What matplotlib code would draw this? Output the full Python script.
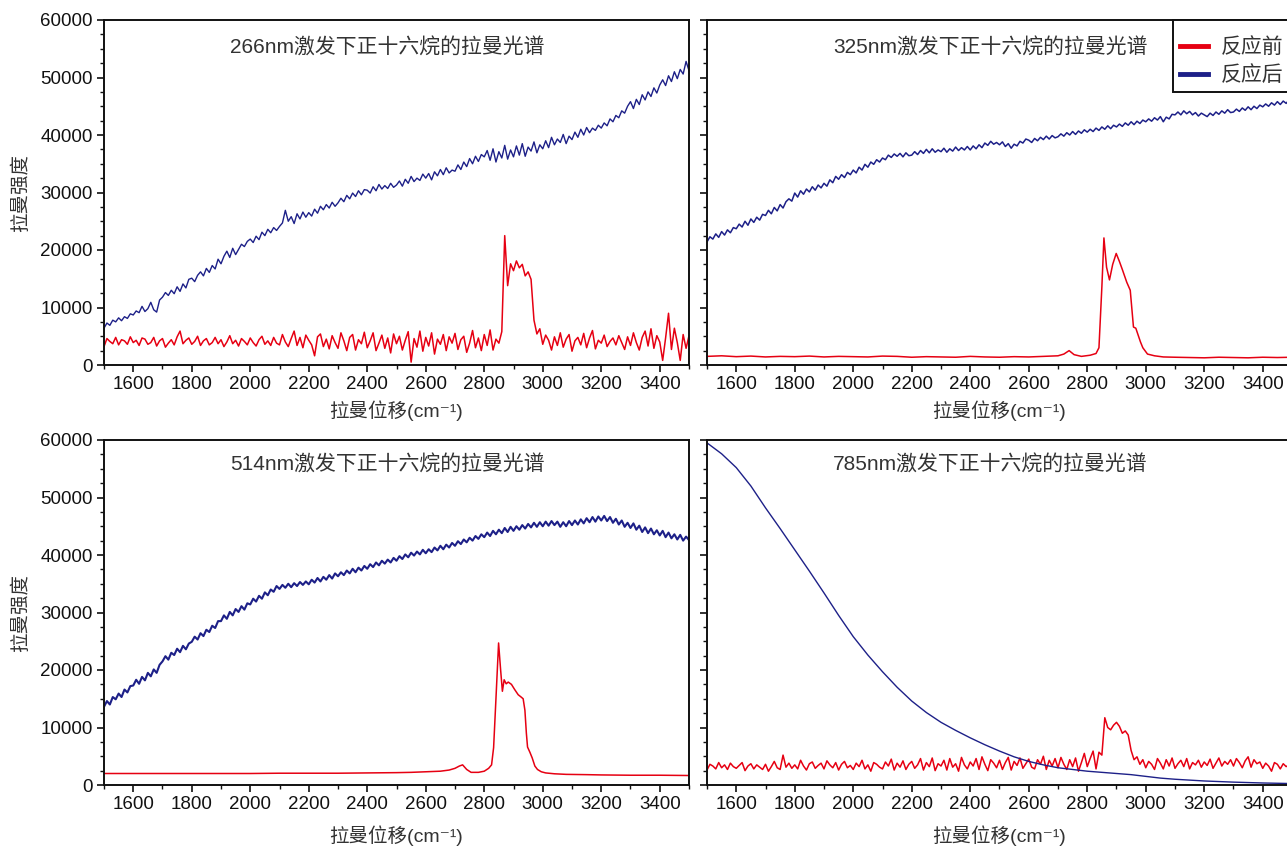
import numpy as np
import matplotlib
matplotlib.use('Agg')
import matplotlib.pyplot as plt
from matplotlib.ticker import MultipleLocator
from matplotlib.patches import Rectangle

plt.rcParams['font.family'] = ['Liberation Sans', 'Noto Sans CJK SC', 'DejaVu Sans']

# ---------------- data ----------------
# common wavenumber sampling (cm^-1) for the noisy spectra
wavenumber = np.arange(1500, 3501, 10)

uv266_after = [
    6400, 7300, 6900, 7800, 7500, 8200, 7700, 8400, 8100, 8900,
    8700, 9400, 9100, 10200, 9300, 9800, 10900, 9600, 9200, 11300,
    11800, 12600, 12100, 13000, 12400, 13600, 12800, 14100, 13400, 14900,
    15100, 14500, 15600, 16200, 15500, 16800, 16100, 17300, 16700, 18400,
    17600, 18900, 19800, 18700, 20300, 19200, 20100, 21000, 20600, 21500,
    21900, 21300, 22400, 21800, 23100, 22500, 23600, 23000, 23900, 23400,
    24100, 24700, 26900, 25000, 25800, 24600, 26300, 25400, 26600, 25700,
    26500, 25900, 27100, 26400, 27600, 27000, 27900, 27300, 28300, 27600,
    28200, 29000, 28400, 29500, 28900, 29900, 29300, 30300, 29600, 30500,
    30400, 29900, 31000, 30300, 31400, 30600, 31200, 30700, 31600, 30900,
    31300, 32000, 31100, 32300, 31600, 32800, 31900, 32500, 32100, 33200,
    32500, 33300, 32200, 33600, 32900, 34000, 33100, 34300, 33400, 33900,
    33700, 34800, 34000, 35300, 34500, 35900, 35000, 36300, 35400, 36600,
    36200, 37300, 35600, 37600, 35300, 37100, 36000, 38200, 35800, 37400,
    36200, 38100, 36500, 38500, 36300, 37900, 37200, 38800, 36900, 38300,
    37600, 39000, 37800, 39600, 38300, 39300, 38700, 40100, 38500, 39800,
    39200, 40500, 39600, 41000, 40000, 41300, 40400, 41200, 40800, 41700,
    41200, 42100, 41600, 42800, 42300, 43400, 43000, 44200, 43800, 45000,
    45800, 44600, 46200, 45300, 47000, 46100, 47500, 46700, 48200, 47300,
    48700, 49600, 48600, 50300, 49300, 51000, 49800, 51400, 50600, 52800,
    51200]

uv266_before = [
    3200, 4600, 4100, 3700, 4800, 3500, 4400, 4200, 3600, 4900,
    3900, 4300, 3400, 4700, 4500, 3600, 3900, 4800, 3300, 4200,
    4600, 3100, 3800, 4400, 3500, 4900, 5900, 3700, 4300, 4700,
    3600, 4100, 5000, 3400, 4200, 4600, 3500, 3900, 4800, 3700,
    4400, 3200, 4000, 5100, 3700, 4300, 3300, 4600, 4100, 3500,
    4700, 3900, 3300, 4400, 5000, 3600, 4200, 3400, 4800, 3800,
    3500, 5300, 4000, 3200, 4600, 5900, 3400, 4800, 3000, 5200,
    4300, 3500, 1600, 4900, 5400, 3200, 4500, 2800, 5100, 3900,
    2900, 5600, 4200, 2500, 4800, 5300, 2600, 4400, 3700, 5700,
    3000, 4200, 5600, 2500, 3800, 5200, 2900, 4700, 2100, 5400,
    3700, 5000, 2600, 4300, 5800, 500, 4600, 3100, 5900, 2400,
    4800, 3300, 5600, 1900, 4500, 3600, 5300, 2500, 4900, 3800,
    5500, 2700, 4400, 5000, 2200, 3800, 6000, 3000, 4700, 2500,
    5300, 3400, 6100, 2600, 4500, 3800, 5800, 22500, 13800, 17600,
    16400, 18100, 16900, 17500, 15500, 16200, 14900, 7800, 5400, 6300,
    3600, 5200, 4300, 2600, 4900, 3400, 5600, 3100, 4500, 5300,
    2400, 4200, 4800, 3500, 5500, 3000, 4700, 6000, 2800, 4300,
    3800, 5200, 3200, 4100, 4700, 3500, 5100, 3900, 2700, 4900,
    3400, 5600, 3900, 2600, 4800, 5900, 3300, 6300, 2900, 5100,
    4000, 800, 4700, 9000, 2700, 6400, 3900, 800, 5300, 2900,
    5100]

uv325_after = [
    21400, 22300, 21900, 22800, 22200, 23200, 22600, 23500, 23000, 23900,
    23700, 24500, 24000, 25000, 24300, 25400, 24800, 25700, 25200, 26200,
    26000, 26900, 26300, 27400, 26800, 27900, 27300, 28400, 28900, 28500,
    29900, 29200, 30300, 29700, 30600, 30100, 31000, 30400, 31300, 30800,
    31600, 31100, 32200, 31700, 32800, 32300, 33100, 32600, 33500, 33100,
    33900, 33400, 34400, 33900, 34900, 34400, 35300, 34900, 35700, 35300,
    36000, 35700, 36500, 36100, 36700, 36300, 36800, 36200, 36900, 36400,
    36500, 37100, 36600, 37300, 36800, 37500, 36900, 37600, 37000, 37400,
    37100, 37700, 37000, 37600, 37200, 37900, 37300, 37800, 37400, 38000,
    37400, 38100, 37600, 38300, 37800, 38600, 38200, 38900, 38400, 38700,
    38300, 38800, 38000, 38500, 37700, 38400, 38100, 38900, 38600, 39300,
    39100, 38700, 39400, 39000, 39600, 39200, 39800, 39300, 39900, 39500,
    39700, 40200, 39800, 40400, 40000, 40600, 40100, 40700, 40300, 40900,
    40500, 41000, 40600, 41200, 40800, 41400, 41000, 41600, 41100, 41700,
    41400, 41900, 41500, 42100, 41700, 42300, 41800, 42400, 42000, 42600,
    42300, 42800, 42400, 43000, 42600, 43200, 42300, 43100, 42800, 43600,
    43500, 44000, 43500, 44200, 43700, 44100, 43500, 43900, 43300, 43800,
    43500, 43200, 43800, 43400, 44000, 43600, 44200, 43800, 44400, 43900,
    44000, 44500, 44100, 44700, 44300, 44900, 44400, 45000, 44600, 45200,
    44900, 45400, 45000, 45600, 45200, 45800, 45300, 45900, 45500, 46100,
    45800]

vis514_after = [
    13600, 14600, 14000, 15300, 14900, 15900, 15300, 16600, 16100, 17200,
    17300, 18300, 17600, 18800, 18200, 19500, 18900, 20100, 19500, 20900,
    21500, 22400, 21800, 23000, 22600, 23700, 23100, 24200, 23600, 24600,
    24900, 25800, 25300, 26400, 25900, 27000, 26600, 27700, 27300, 28500,
    28500, 29500, 28900, 30100, 29500, 30600, 30100, 31100, 30500, 31600,
    31400, 32400, 31900, 32900, 32400, 33500, 33000, 34000, 33600, 34600,
    34100, 34800, 34300, 35000, 34400, 35100, 34600, 35300, 34800, 35400,
    34900, 35700, 35200, 36000, 35400, 36200, 35700, 36500, 35900, 36800,
    36300, 37000, 36500, 37300, 36800, 37600, 37000, 37800, 37300, 38100,
    37600, 38400, 37900, 38700, 38200, 39000, 38500, 39200, 38700, 39500,
    39000, 39800, 39300, 40100, 39600, 40400, 39900, 40600, 40100, 40900,
    40300, 41000, 40500, 41300, 40800, 41600, 41000, 41800, 41300, 42100,
    41600, 42400, 41900, 42700, 42200, 43000, 42500, 43300, 42800, 43600,
    43100, 43900, 43300, 44200, 43600, 44400, 43800, 44700, 44000, 44900,
    44200, 45000, 44400, 45200, 44600, 45400, 44800, 45600, 44900, 45700,
    45000, 45800, 45100, 45900, 45200, 45800, 44900, 45700, 45000, 45900,
    45200, 46000, 45300, 46200, 45500, 46400, 45700, 46600, 45800, 46700,
    46000, 46800, 45900, 46600, 45600, 46300, 45300, 46000, 44900, 45600,
    44700, 45500, 44400, 45100, 44000, 44800, 43800, 44600, 43600, 44300,
    43400, 44200, 43100, 43900, 42900, 43600, 42700, 43500, 42500, 43200,
    42600]

nir785_before = [
    2600, 3600, 3300, 2800, 3900, 3000, 3500, 2700, 3800, 3200,
    2900, 3400, 3900, 2500, 3300, 3700, 2800, 3500, 3100, 2700,
    3600, 2400, 3200, 4100, 3000, 2700, 5200, 3100, 3800, 2900,
    3500, 2800, 4300, 3300, 2600, 3700, 4000, 2900, 3400, 3800,
    2800, 4200, 3500, 3000, 3900, 2600, 3600, 4100, 3000, 3400,
    2700, 3800, 3200, 4300, 2800, 3500, 2400, 3900, 3600, 3100,
    2800, 4000, 3300, 4500, 2600, 3800, 3100, 4200, 2700, 3600,
    4100, 2900, 3500, 4600, 2600, 3900, 3200, 4700, 2500, 3700,
    3300, 4300, 2600, 4600, 3100, 3700, 2400, 4800, 3500, 2800,
    4000, 3300, 4600, 2700, 4900, 3600, 2500, 4400, 3800, 3000,
    4300, 2700, 3900, 4800, 2600, 4100, 3400, 4700, 2900, 3700,
    4500, 3100, 2800, 4400, 3600, 5000, 2700, 4300, 3300, 4600,
    3000, 4800, 3600, 2700, 4400, 3200, 4700, 2400, 3900, 5500,
    3200, 4600, 5900, 2800, 5700, 5200, 11700, 10000, 9600, 10400,
    10900, 10200, 9000, 9400, 8700, 6000, 4400, 4900, 3600, 4400,
    3000, 4100, 3600, 2700, 4600, 3800, 2800, 4400, 3300, 4700,
    2900, 3700, 4300, 3200, 4600, 2800, 3900, 3500, 4300, 3100,
    4000, 3400, 4500, 2900, 3800, 4700, 3300, 4100, 3600, 4400,
    3300, 4600, 3900, 3000, 4200, 4900, 3100, 4400, 3700, 4000,
    2900, 3800, 3300, 2400, 3900, 3600, 2800, 3700, 3200, 3500,
    3300]

# smoother spectra, read at their own wavenumbers
uv325_before_x = [1500, 1550, 1600, 1650, 1700, 1750, 1800, 1850, 1900, 1950,
                  2000, 2050, 2100, 2150, 2200, 2250, 2300, 2350, 2400, 2450,
                  2500, 2550, 2600, 2650, 2700,
                  2720, 2738, 2755, 2780, 2810, 2830, 2840, 2850, 2857, 2866,
                  2876, 2887, 2899, 2910, 2920, 2935, 2947, 2953, 2958, 2966,
                  2974, 2982, 2990, 3006, 3030, 3060,
                  3100, 3150, 3200, 3250, 3300, 3350, 3400, 3450, 3500]
uv325_before = [1500, 1600, 1450, 1550, 1400, 1500, 1450, 1550, 1400, 1500,
                1450, 1400, 1550, 1500, 1350, 1450, 1400, 1350, 1500, 1400,
                1350, 1450, 1400, 1500, 1600,
                1900, 2500, 1800, 1500, 1700, 2000, 3000, 13600, 22100, 17000,
                14800, 17500, 19400, 18000, 16600, 14400, 13000, 9500, 6600, 6400,
                5200, 4000, 3000, 1900, 1600, 1400,
                1350, 1300, 1250, 1350, 1300, 1250, 1350, 1300, 1350]

vis514_before_x = [1500, 1600, 1700, 1800, 1900, 2000, 2100, 2200, 2300, 2400, 2500,
                   2550, 2600, 2650, 2680, 2700, 2715, 2726, 2740, 2755, 2780,
                   2800, 2815, 2825, 2832, 2840, 2849, 2856, 2862, 2868, 2875,
                   2882, 2893, 2904, 2916, 2926, 2933, 2939, 2944, 2948, 2956,
                   2964, 2973, 2982, 2995, 3010, 3040, 3080, 3150, 3200, 3300,
                   3400, 3500]
vis514_before = [2000, 2000, 2000, 2000, 2000, 2000, 2050, 2050, 2050, 2100, 2150,
                 2200, 2300, 2400, 2600, 2900, 3300, 3500, 2700, 2200, 2200,
                 2400, 2900, 3500, 6500, 15000, 24700, 20000, 16300, 18300, 17600,
                 17900, 17500, 16600, 15700, 15300, 15000, 13000, 9000, 6600, 5700,
                 4700, 3300, 2700, 2300, 2100, 1950, 1850, 1800, 1750, 1700,
                 1700, 1650]

nir785_after_x = [1500, 1550, 1600, 1650, 1700, 1750, 1800, 1850, 1900, 1950,
                  2000, 2050, 2100, 2150, 2200, 2250, 2300, 2350, 2400, 2450,
                  2500, 2550, 2600, 2650, 2700, 2750, 2800, 2850, 2900, 2950,
                  3000, 3050, 3100, 3200, 3300, 3400, 3500]
nir785_after = [59500, 57600, 55200, 52000, 48200, 44600, 40900, 37200, 33400, 29500,
                25800, 22600, 19700, 17000, 14600, 12600, 10900, 9500, 8200, 7000,
                5900, 4900, 4100, 3500, 3000, 2700, 2400, 2200, 2000, 1800,
                1500, 1200, 1000, 700, 500, 350, 250]

titles = ['266nm激发下正十六烷的拉曼光谱', '325nm激发下正十六烷的拉曼光谱',
          '514nm激发下正十六烷的拉曼光谱', '785nm激发下正十六烷的拉曼光谱']
series_labels = ['反应前', '反应后']
xlabel_text = '拉曼位移(cm⁻¹)'
ylabel_text = '拉曼强度'

panels = [
    (wavenumber, uv266_before, wavenumber, uv266_after),
    (uv325_before_x, uv325_before, wavenumber, uv325_after),
    (vis514_before_x, vis514_before, wavenumber, vis514_after),
    (wavenumber, nir785_before, nir785_after_x, nir785_after),
]
after_lw = [1.0, 1.1, 1.5, 1.0]

RED = '#e60012'
NAVY = '#1d2088'
INK = '#111111'
TXT = '#333333'

W, H = 1287, 848
fig = plt.figure(figsize=(W / 100, H / 100), dpi=100)


def frac_box(l, t, r, b):
    return [l / W, (H - b) / H, (r - l) / W, (b - t) / H]


boxes = [frac_box(104, 20, 689, 365), frac_box(707, 20, 1292, 365),
         frac_box(104, 440, 689, 785), frac_box(707, 440, 1292, 785)]

axes = []
for i, (box, (xb, yb, xa, ya)) in enumerate(zip(boxes, panels)):
    ax = fig.add_axes(box)
    axes.append(ax)
    ax.plot(xb, yb, color=RED, lw=1.1, label=series_labels[0])
    ax.plot(xa, ya, color=NAVY, lw=after_lw[i], label=series_labels[1])
    ax.set_xlim(1500, 3500)
    ax.set_ylim(0, 60000)
    ax.xaxis.set_major_locator(MultipleLocator(200))
    ax.xaxis.set_minor_locator(MultipleLocator(100))
    ax.yaxis.set_major_locator(MultipleLocator(10000))
    ax.yaxis.set_minor_locator(MultipleLocator(2500))
    ax.tick_params(which='major', direction='out', length=5, width=1.2,
                   labelsize=13.5, colors=INK, pad=3)
    ax.tick_params(which='minor', direction='out', length=3, width=1.0,
                   colors=INK)
    for sp in ax.spines.values():
        sp.set_linewidth(1.4)
        sp.set_color(INK)
    if i % 2 == 1:
        ax.tick_params(labelleft=False)
    else:
        ax.set_ylabel(ylabel_text, fontsize=14, color=TXT)
        ax.yaxis.set_label_coords(-74 / 585, 0.5)
    ax.set_xlabel(xlabel_text, fontsize=14, color=TXT)
    if i < 2:
        ax.xaxis.set_label_coords(0.5, -35 / 345)
    else:
        ax.xaxis.set_label_coords(0.5, -40 / 345)
    ty = 0.92 if i < 2 else 0.928
    ax.text(0.484, ty, titles[i], transform=ax.transAxes, ha='center',
            va='center', fontsize=15, color=TXT)

# legend box (drawn separately so its height matches the reference)
box_ax = axes[1]
frame = Rectangle((1173 / W, (H - 92) / H), 130 / W, 72 / H,
                  transform=fig.transFigure, facecolor='white',
                  edgecolor=INK, linewidth=1.4, zorder=4.9, clip_on=False)
box_ax.add_artist(frame)
leg = box_ax.legend(loc='upper left', bbox_to_anchor=(1174 / W, (H - 31) / H),
                    bbox_transform=fig.transFigure, fontsize=15,
                    frameon=False, handlelength=1.35, handletextpad=0.6,
                    labelspacing=0.4, borderpad=0.3, borderaxespad=0)
leg.set_zorder(5)
for line in leg.get_lines():
    line.set_linewidth(3.5)
for t in leg.get_texts():
    t.set_color(TXT)

fig.savefig('out.png', dpi=100)
